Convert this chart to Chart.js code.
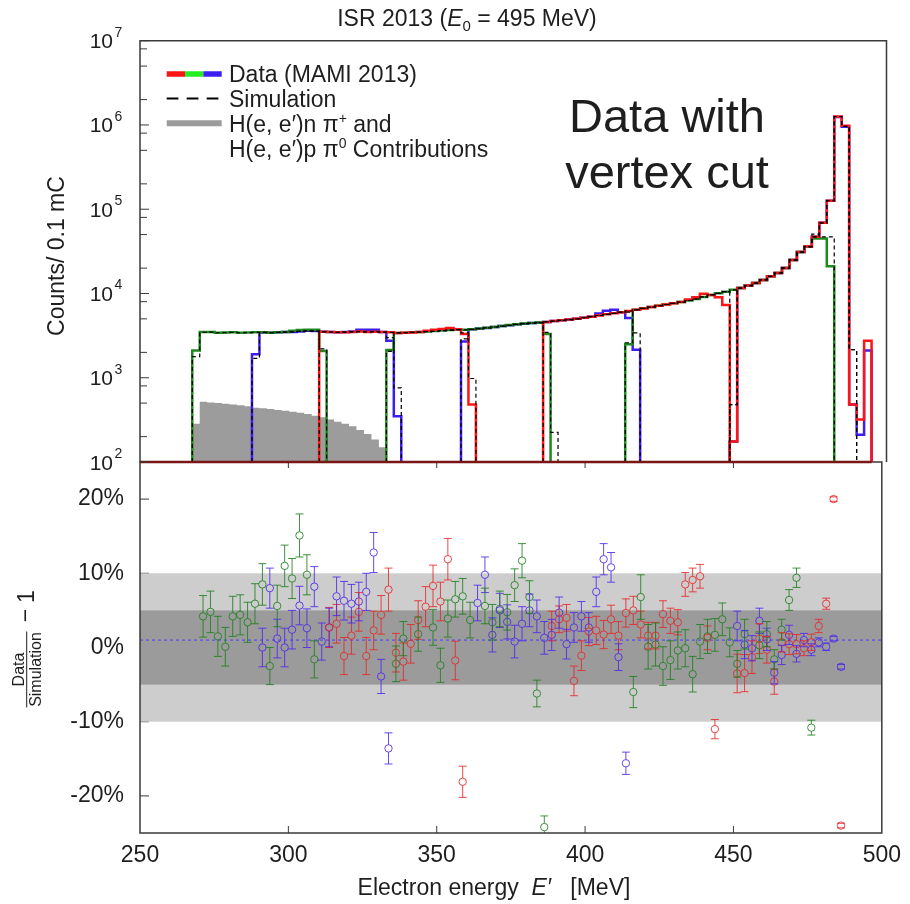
<!DOCTYPE html>
<html>
<head>
<meta charset="utf-8">
<script src="https://cdn.jsdelivr.net/npm/chart.js@4.4.1/dist/chart.umd.min.js"></script>
<style>
  body { margin: 0; background: #fff; }
  #wrap { position: relative; width: 910px; height: 904px; }
  #wrap canvas { position: absolute; left: 0; top: 0; }
</style>
</head>
<body>
<div id="wrap">
  <canvas id="ratio" width="910" height="904"></canvas>
  <canvas id="spectrum" width="910" height="904"></canvas>
</div>
<script>
// ---- spectrum (upper panel): [first bin edge MeV, counts per 2.5 MeV bin] per spectrometer setting
const BIN = 2.5;
const LOG_FLOOR = 100;

const redData = [
  [310, [3520, 3480, 3460, 3470, 3500, 3530, 3500, 3520, 3500, 3460, 3400, 3420, 3450, 3500, 3600, 3700, 3800, 3900, 3750, 3300, 480]],
  [385, [4600, 4700, 4800, 4900, 5000, 5150, 5300, 5480, 5650, 5820, 6000, 6200, 6400, 6650, 6900, 7150, 7400, 7650, 7900, 8500, 9000, 9900, 9600, 9000, 7300]],
  [447.5, [175, 11600, 12400, 13300, 14500, 16000, 17500, 20000, 25000, 31000, 36000, 47000, 69000, 126000, 1260000, 980000, 480, 320, 2750]]
];
const greenData = [
  [267.5, [2100, 3480, 3480, 3430, 3440, 3460, 3430, 3450, 3470, 3460, 3430, 3470, 3500, 3600, 3680, 3720, 3700, 2080]],
  [332.5, [2130, 3400, 3430, 3460, 3500, 3540, 3580, 3630, 3690, 3730, 3720, 3760, 3830, 3910, 4010, 4100, 4220, 4320, 4400, 4460, 4530, 3300]],
  [412.5, [2500, 6420, 6660, 6920, 7160, 7420, 7660, 7920, 8260, 8620, 9100, 9600, 10050, 10500, 11050, 11600, 12400, 13300, 14500, 16000, 17500, 20000, 25000, 31000, 36000, 45000, 45000, 21000]]
];
const blueData = [
  [287.5, [1900, 3450, 3420, 3460, 3480, 3500, 3550, 3600, 3580, 3520, 3480, 3460, 3500, 3540, 3700, 3720, 3720, 3500, 2750, 350]],
  [357.5, [2700, 3760, 3830, 3900, 4000, 4100, 4200, 4300, 4380, 4450, 4520, 4600, 4700, 4800, 4900, 5000, 5150, 5300, 5800, 6250, 6400, 6000, 5100, 2150]],
  [447.5, [175, 11600, 12400, 13300, 14500, 16000, 17500, 20000, 25000, 31000, 36000, 47000, 69000, 126000, 1240000, 950000, 480, 210, 2100]]
];
const redSim = [
  [310, [3500, 3480, 3460, 3480, 3500, 3520, 3500, 3520, 3480, 3450, 3400, 3420, 3450, 3480, 3520, 3560, 3620, 3680, 3720, 3400, 980]],
  [385, [4600, 4700, 4800, 4900, 5000, 5150, 5300, 5480, 5650, 5820, 6000, 6200, 6400, 6650, 6900, 7150, 7400, 7650, 7900, 8250, 8600, 9100, 9600, 10050, 10500]],
  [447.5, [480, 11600, 12400, 13300, 14500, 16000, 17500, 20000, 25000, 31000, 36000, 47000, 69000, 126000, 1260000, 960000, 2150]]
];
const greenSim = [
  [267.5, [1780, 3450, 3480, 3420, 3430, 3450, 3420, 3440, 3460, 3450, 3420, 3460, 3480, 3500, 3550, 3600, 3580, 2200]],
  [332.5, [2050, 3400, 3420, 3450, 3480, 3520, 3560, 3620, 3680, 3720, 3700, 3750, 3820, 3900, 4000, 4100, 4200, 4300, 4380, 4450, 4520, 3450, 225]],
  [412.5, [2600, 6400, 6650, 6900, 7150, 7400, 7650, 7900, 8250, 8600, 9100, 9600, 10050, 10500, 11050, 11600, 12400, 13300, 14500, 16000, 17500, 20000, 25000, 31000, 36000, 50500, 47000, 47000]]
];
const blueSim = [
  [287.5, [1700, 3450, 3420, 3460, 3480, 3500, 3550, 3600, 3580, 3520, 3480, 3460, 3480, 3500, 3520, 3500, 3520, 3480, 3000, 760]],
  [357.5, [2900, 3750, 3820, 3900, 4000, 4100, 4200, 4300, 4380, 4450, 4520, 4600, 4700, 4800, 4900, 5000, 5150, 5300, 5480, 5650, 5820, 6000, 6000, 3400]],
  [447.5, [480, 11600, 12400, 13300, 14500, 16000, 17500, 20000, 25000, 31000, 36000, 47000, 69000, 126000, 1260000, 960000, 2150]]
];
// H(e,e')n pi+ and H(e,e')p pi0 contributions
const pionStart = 267.5;
const pionCounts = [285, 520, 510, 500, 490, 480, 470, 460, 440, 435, 425, 415, 405, 395, 385, 370, 355, 340, 320, 300, 285, 265, 240, 215, 185, 150];
const baselineRange = [250, 495];
const logDecades = [2, 3, 4, 5, 6, 7];

// ---- ratio (lower panel): Data/Simulation - 1 in %
const redE = [313.75, 316.25, 318.75, 321.25, 323.75, 326.25, 328.75, 331.25, 333.75, 336.25, 338.75, 341.25, 343.75, 346.25, 348.75, 351.25, 353.75, 356.25, 358.75,
  388.75, 391.25, 393.75, 396.25, 398.75, 401.25, 403.75, 406.25, 408.75, 411.25, 413.75, 416.25, 418.75, 421.25, 423.75, 426.25, 428.75, 431.25, 433.75, 436.25, 438.75, 441.25, 443.75,
  451.25, 453.75, 456.25, 458.75, 461.25, 463.75, 466.25, 468.75, 471.25, 473.75, 476.25, 478.75, 481.25, 483.75, 486.25];
const redRatio = [2.7, 3.2, -1.15, 1.6, 4.8, -1.15, 2.3, 4.4, 7.8, -0.7, -1.9, 0.5, 3.7, 5.5, 8.3, 6.2, 11.9, -1.75, -18.1,
  2.9, 3.8, 4.0, -4.5, -1.1, 2.15, 2.3, 1.75, 3.8, 1.6, 4.65, 5.0, 3.1, 1.6, 1.6, 4.5, 3.6, 3.4, 8.5, 9.1, 9.6, 1.3, -11.0,
  -3.5, -3.45, -1.3, 1.2, -0.3, -4.6, 0.7, 0.45, 0.45, -0.1, 0.7, 2.9, 5.9, 20.0, -24.0];
const redErr = [2.7, 2.6, 2.5, 2.5, 2.6, 2.5, 2.6, 2.6, 2.9, 2.6, 2.5, 2.6, 2.6, 2.7, 2.8, 2.6, 2.8, 2.6, 2.1,
  2.0, 1.8, 1.8, 2.0, 2.0, 1.9, 1.9, 1.9, 1.9, 1.9, 1.9, 1.9, 1.8, 1.8, 1.8, 1.8, 1.7, 1.7, 1.6, 1.6, 1.6, 1.6, 1.3,
  2.6, 2.5, 2.2, 2.0, 1.8, 1.7, 1.3, 1.4, 1.3, 1.0, 1.1, 0.9, 0.75, 0.3, 0.3];

const greenE = [271.25, 273.75, 276.25, 278.75, 281.25, 283.75, 286.25, 288.75, 291.25, 293.75, 296.25, 298.75, 301.25, 303.75, 306.25, 308.75,
  336.25, 338.75, 343.75, 348.75, 351.25, 353.75, 356.25, 358.75, 361.25, 366.25, 368.75, 371.25, 373.75, 376.25, 378.75, 381.25, 383.75, 386.25,
  416.25, 418.75, 421.25, 423.75, 426.25, 428.75, 431.25, 433.75, 436.25, 438.75, 441.25, 443.75, 446.25, 448.75, 451.25, 453.75, 458.75, 461.25, 463.75, 466.25, 468.75, 471.25, 476.25];
const greenRatio = [4.2, 4.8, 1.5, 0.1, 4.2, 4.4, 3.4, 5.9, 8.5, -2.5, 5.6, 11.0, 9.3, 15.1, 9.8, -1.6,
  -2.2, 1.2, 1.8, 2.7, -2.4, 3.9, 6.5, 6.9, 3.7, 5.6, 3.4, 5.2, 4.75, 8.4, 11.7, 6.8, -6.2, -24.2,
  -6.0, 6.8, 0.1, 0.4, -2.5, -1.7, -0.4, -0.1, -3.6, 0.8, 1.5, 1.7, 3.8, 0.7, -2.2, 1.8, 0.3, 1.8, -1.6, 2.4, 6.4, 9.4, -10.8];
const greenErr = [2.8, 2.8, 2.7, 2.6, 2.7, 2.7, 2.7, 2.7, 2.8, 2.5, 2.8, 2.8, 2.7, 2.9, 2.7, 2.5,
  2.4, 2.3, 2.3, 2.4, 2.3, 2.5, 2.4, 2.4, 2.4, 2.4, 2.4, 2.4, 2.4, 2.2, 2.3, 2.2, 1.8, 1.5,
  2.1, 3.0, 3.0, 2.9, 2.6, 2.6, 2.5, 2.5, 2.4, 2.3, 2.3, 2.2, 2.2, 1.95, 1.8, 2.0, 1.8, 1.7, 1.3, 1.4, 1.4, 1.3, 1.0];

const blueE = [291.25, 293.75, 296.25, 298.75, 301.25, 303.75, 306.25, 308.75, 311.25, 313.75, 316.25, 318.75, 321.25, 323.75, 326.25, 328.75, 331.25, 333.75,
  363.75, 366.25, 368.75, 371.25, 373.75, 376.25, 378.75, 381.25, 383.75, 386.25, 388.75, 391.25, 393.75, 396.25, 398.75, 401.25, 403.75, 406.25, 408.75, 411.25, 413.75,
  451.25, 453.75, 456.25, 458.75, 461.25, 463.75, 466.25, 468.75, 471.25, 473.75, 476.25, 478.75, 481.25, 483.75, 486.25];
const blueRatio = [0.0, 8.0, 1.2, 0.0, 2.4, 5.65, 2.6, 8.2, 0.8, 2.7, 6.9, 6.3, 5.9, 6.2, 7.5, 12.8, -3.9, -13.6,
  6.0, 9.8, 1.7, 5.0, 3.45, 0.8, 3.2, 5.0, 4.2, 1.3, 1.7, 4.7, 0.45, 2.7, 4.2, 2.7, 7.5, 11.9, 10.8, -1.3, -15.6,
  2.9, 0.4, -0.1, 3.6, 1.1, -3.4, -1.0, 1.7, -0.85, 1.0, -0.3, 0.7, 0.1, 1.2, -2.6];
const blueErr = [2.6, 2.7, 2.6, 2.6, 2.6, 2.6, 2.6, 2.7, 2.5, 2.6, 2.6, 2.6, 2.6, 2.6, 2.5, 2.7, 2.3, 2.1,
  2.4, 2.4, 2.3, 2.3, 2.3, 2.2, 2.3, 2.2, 2.2, 2.2, 2.1, 2.1, 2.0, 2.0, 2.0, 2.0, 2.0, 2.1, 2.0, 1.8, 1.5,
  2.0, 1.9, 1.7, 1.7, 1.5, 1.5, 1.3, 1.3, 1.1, 0.9, 0.8, 0.6, 0.5, 0.3, 0.3];

const energyTicks = [250, 300, 350, 400, 450, 500];
const ratioTicks = [-20, -10, 0, 10, 20];
const bandOuter = [-10, 10];
const bandInner = [-5, 5];
const refLevel = 1;

// ---- styling
const FONT = '"Liberation Sans", Arial, Helvetica, sans-serif';
const TEXT = '#1e1e1e';
const AXIS = '#3a3a3a';
const LINE = { red: '#ff1414', green: '#1e8a1e', blue: '#3c1ef0' };
const MARK = { red: 'rgba(232,40,40,0.85)', green: 'rgba(30,128,30,0.85)', blue: 'rgba(80,40,235,0.85)' };
const PLOT = { left: 140, right: 886.5, top: 40.7, mid: 462, bottom: 833 };
const MARK_R = 3.7;

function histSet(start, counts, style) {
  const pts = [{ x: start, y: LOG_FLOOR }];
  counts.forEach((c, k) => pts.push({ x: start + k * BIN, y: c }));
  const end = start + counts.length * BIN;
  pts.push({ x: end, y: counts[counts.length - 1] }, { x: end, y: LOG_FLOOR });
  return Object.assign({ type: 'line', data: pts, stepped: 'before', pointRadius: 0, fill: false, clip: false, borderJoinStyle: 'miter' }, style);
}

function runsWidth(ctx, runs, size) {
  let w = 0;
  runs.forEach(r => {
    ctx.font = (r.italic ? 'italic ' : '') + (r.size || size) + 'px ' + FONT;
    w += ctx.measureText(r.t).width;
  });
  return w;
}
function drawRuns(ctx, runs, x, y, size) {
  let cx = x;
  ctx.textAlign = 'left';
  ctx.textBaseline = 'alphabetic';
  runs.forEach(r => {
    ctx.font = (r.italic ? 'italic ' : '') + (r.size || size) + 'px ' + FONT;
    ctx.fillText(r.t, cx, y + (r.shift || 0));
    cx += ctx.measureText(r.t).width;
  });
  return cx;
}

// ---------------- upper panel ----------------
const simStyle = { borderColor: '#000', borderWidth: 1.2, borderDash: [4, 3] };
const topSets = [];
topSets.push({ type: 'line', data: baselineRange.map(e => ({ x: e, y: LOG_FLOOR })), borderColor: '#7a1616', borderWidth: 2.5, pointRadius: 0, clip: false });
[redSim, greenSim, blueSim].forEach(list => list.forEach(([s, c]) => topSets.push(histSet(s, c, simStyle))));
redData.forEach(([s, c]) => topSets.push(histSet(s, c, { borderColor: LINE.red, borderWidth: 2.5 })));
greenData.forEach(([s, c]) => topSets.push(histSet(s, c, { borderColor: LINE.green, borderWidth: 2.5 })));
blueData.forEach(([s, c]) => topSets.push(histSet(s, c, { borderColor: LINE.blue, borderWidth: 2.5 })));
topSets.push(histSet(pionStart, pionCounts, { borderWidth: 0, borderColor: 'rgba(0,0,0,0)', backgroundColor: '#9c9c9c', fill: 'start' }));

const spectrumDecor = {
  id: 'spectrumDecor',
  afterDraw(chart) {
    const { ctx, chartArea: a, scales: { y } } = chart;
    ctx.save();
    // frame
    ctx.strokeStyle = AXIS;
    ctx.lineWidth = 1.5;
    ctx.beginPath();
    ctx.moveTo(a.left, a.bottom); ctx.lineTo(a.left, a.top); ctx.lineTo(a.right, a.top); ctx.lineTo(a.right, a.bottom);
    ctx.stroke();
    // inward ticks on the log axis
    ctx.lineWidth = 1;
    logDecades.forEach(k => {
      const yp = y.getPixelForValue(Math.pow(10, k));
      ctx.beginPath(); ctx.moveTo(a.left, yp); ctx.lineTo(a.left + 9, yp); ctx.stroke();
      if (k < 7) {
        [2, 5, 8].forEach(m => {
          const ym = y.getPixelForValue(m * Math.pow(10, k));
          ctx.beginPath(); ctx.moveTo(a.left, ym); ctx.lineTo(a.left + 7, ym); ctx.stroke();
        });
      }
      // label 10^k
      ctx.fillStyle = TEXT;
      ctx.font = '21px ' + FONT;
      ctx.textAlign = 'right';
      ctx.textBaseline = 'alphabetic';
      ctx.fillText('10', 113, yp + 7.5);
      ctx.font = '14px ' + FONT;
      ctx.textAlign = 'left';
      ctx.fillText(String(k), 114.5, yp - 4);
    });
    ctx.fillStyle = TEXT;
    // title
    const title = [{ t: 'ISR 2013 (' }, { t: 'E', italic: true }, { t: '0', size: 15, shift: 5 }, { t: ' = 495 MeV)' }];
    drawRuns(ctx, title, 467 - runsWidth(ctx, title, 23) / 2, 26, 23);
    // y axis title
    ctx.save();
    ctx.translate(58, 256);
    ctx.rotate(-Math.PI / 2);
    ctx.font = '23px ' + FONT;
    ctx.textAlign = 'center';
    ctx.textBaseline = 'middle';
    ctx.fillText('Counts/ 0.1 mC', 0, 0);
    ctx.restore();
    // legend
    const lx0 = 166.7, lx1 = 221.7, seg = (lx1 - lx0) / 3;
    ctx.lineWidth = 5.5;
    [LINE.red, '#22ee22', LINE.blue].forEach((c, i) => {
      ctx.strokeStyle = c;
      ctx.beginPath(); ctx.moveTo(lx0 + i * seg, 74); ctx.lineTo(lx0 + (i + 1) * seg, 74); ctx.stroke();
    });
    ctx.strokeStyle = '#000';
    ctx.lineWidth = 2;
    ctx.setLineDash([11.7, 8.3]);
    ctx.beginPath(); ctx.moveTo(lx0, 98.5); ctx.lineTo(lx1, 98.5); ctx.stroke();
    ctx.setLineDash([]);
    ctx.strokeStyle = '#9c9c9c';
    ctx.lineWidth = 6;
    ctx.beginPath(); ctx.moveTo(lx0, 123.3); ctx.lineTo(lx1, 123.3); ctx.stroke();
    ctx.fillStyle = TEXT;
    drawRuns(ctx, [{ t: 'Data (MAMI 2013)' }], 229, 82, 23);
    drawRuns(ctx, [{ t: 'Simulation' }], 229, 106.5, 23);
    drawRuns(ctx, [{ t: 'H(e, e\u2032)n ' }, { t: '\u03c0' }, { t: '+', size: 14, shift: -9 }, { t: ' and' }], 229, 131.5, 23);
    drawRuns(ctx, [{ t: 'H(e, e\u2032)p ' }, { t: '\u03c0' }, { t: '0', size: 14, shift: -9 }, { t: ' Contributions' }], 229, 156.5, 23);
    // annotation
    ctx.font = '47px ' + FONT;
    ctx.textAlign = 'center';
    ctx.textBaseline = 'alphabetic';
    ctx.fillText('Data with', 667, 132);
    ctx.fillText('vertex cut', 667, 188);
    ctx.restore();
  }
};

new Chart(document.getElementById('spectrum'), {
  type: 'line',
  data: { datasets: topSets },
  options: {
    responsive: false, animation: false, devicePixelRatio: 1, events: [],
    layout: { padding: { left: PLOT.left, right: 910 - PLOT.right, top: PLOT.top, bottom: 904 - PLOT.mid } },
    plugins: { legend: { display: false }, tooltip: { enabled: false } },
    scales: {
      x: { type: 'linear', min: 250, max: 500, display: false },
      y: { type: 'logarithmic', min: 1e2, max: 1e7, display: false }
    }
  },
  plugins: [spectrumDecor]
});

// ---------------- lower panel ----------------
function ratioSet(es, vals, errs, color) {
  return {
    type: 'scatter', data: es.map((e, k) => ({ x: e, y: vals[k] })), errors: errs,
    pointRadius: MARK_R, pointBorderWidth: 1, pointBorderColor: color, pointBackgroundColor: 'rgba(0,0,0,0)',
    borderColor: color, showLine: false, clip: false
  };
}

const ratioDecor = {
  id: 'ratioDecor',
  beforeDatasetsDraw(chart) {
    const { ctx, chartArea: a, scales: { y } } = chart;
    ctx.save();
    ctx.strokeStyle = AXIS;
    ctx.lineWidth = 1;
    ratioTicks.forEach(v => {
      const yp = y.getPixelForValue(v);
      ctx.beginPath(); ctx.moveTo(a.left, yp); ctx.lineTo(a.left + 9, yp); ctx.stroke();
    });
    const yo1 = y.getPixelForValue(bandOuter[1]), yo0 = y.getPixelForValue(bandOuter[0]);
    const yi1 = y.getPixelForValue(bandInner[1]), yi0 = y.getPixelForValue(bandInner[0]);
    ctx.fillStyle = '#cdcdcd';
    ctx.fillRect(a.left, yo1, a.right - a.left, yo0 - yo1);
    ctx.fillStyle = '#9b9b9b';
    ctx.fillRect(a.left, yi1, a.right - a.left, yi0 - yi1);
    ctx.restore();
  },
  afterDatasetsDraw(chart) {
    const { ctx, chartArea: a, scales: { y } } = chart;
    ctx.save();
    ctx.beginPath(); ctx.rect(a.left, a.top, a.right - a.left, a.bottom - a.top); ctx.clip();
    chart.data.datasets.forEach((ds, i) => {
      if (!ds.errors) return;
      const meta = chart.getDatasetMeta(i);
      ctx.strokeStyle = ds.pointBorderColor;
      ctx.lineWidth = 1;
      meta.data.forEach((pt, k) => {
        const v = ds.data[k].y, e = ds.errors[k], r = MARK_R;
        const yt = y.getPixelForValue(v + e), yb = y.getPixelForValue(v - e);
        ctx.beginPath();
        if (pt.y - r > yt) { ctx.moveTo(pt.x, yt); ctx.lineTo(pt.x, pt.y - r); }
        if (yb > pt.y + r) { ctx.moveTo(pt.x, pt.y + r); ctx.lineTo(pt.x, yb); }
        ctx.moveTo(pt.x - 4, yt); ctx.lineTo(pt.x + 4, yt);
        ctx.moveTo(pt.x - 4, yb); ctx.lineTo(pt.x + 4, yb);
        ctx.stroke();
      });
    });
    ctx.restore();
  },
  afterDraw(chart) {
    const { ctx, chartArea: a, scales: { x } } = chart;
    ctx.save();
    ctx.strokeStyle = AXIS;
    ctx.lineWidth = 1.5;
    ctx.strokeRect(a.left, a.top, a.right - a.left, a.bottom - a.top);
    ctx.lineWidth = 1;
    energyTicks.slice(1, -1).forEach(e => {
      const xp = x.getPixelForValue(e);
      ctx.beginPath();
      ctx.moveTo(xp, a.bottom); ctx.lineTo(xp, a.bottom - 7);
      ctx.moveTo(xp, a.top); ctx.lineTo(xp, a.top + 6);
      ctx.stroke();
    });
    ctx.fillStyle = TEXT;
    // x axis title
    const xt = [{ t: 'Electron energy  ' }, { t: 'E\u2032', italic: true }, { t: '   [MeV]' }];
    drawRuns(ctx, xt, 494 - runsWidth(ctx, xt, 23) / 2, 895, 23);
    // y axis title: fraction Data/Simulation - 1, rotated
    ctx.translate(26.7, 669.5);
    ctx.rotate(-Math.PI / 2);
    ctx.textAlign = 'center';
    ctx.font = '16px ' + FONT;
    ctx.textBaseline = 'alphabetic';
    ctx.fillText('Data', 0, -3);
    ctx.textBaseline = 'top';
    ctx.fillText('Simulation', 0, 2);
    ctx.strokeStyle = TEXT;
    ctx.lineWidth = 1;
    ctx.beginPath(); ctx.moveTo(-38, 0); ctx.lineTo(38, 0); ctx.stroke();
    ctx.font = '23px ' + FONT;
    ctx.textBaseline = 'middle';
    ctx.fillText('\u2212', 54, 0);
    ctx.fillText('1', 73, 1);
    ctx.restore();
  }
};

new Chart(document.getElementById('ratio'), {
  type: 'scatter',
  data: {
    datasets: [
      ratioSet(redE, redRatio, redErr, MARK.red),
      ratioSet(blueE, blueRatio, blueErr, MARK.blue),
      ratioSet(greenE, greenRatio, greenErr, MARK.green),
      { type: 'line', data: [{ x: 250, y: refLevel }, { x: 500, y: refLevel }], borderColor: '#4a3cff', borderWidth: 1, borderDash: [3, 3], pointRadius: 0 }
    ]
  },
  options: {
    responsive: false, animation: false, devicePixelRatio: 1, events: [],
    layout: { padding: { left: 0, right: 910 - PLOT.right, top: PLOT.mid, bottom: 0 } },
    plugins: { legend: { display: false }, tooltip: { enabled: false } },
    scales: {
      x: {
        type: 'linear', min: 250, max: 500,
        afterBuildTicks: s => { s.ticks = energyTicks.map(v => ({ value: v })); },
        afterFit: s => { s.height = 904 - PLOT.bottom; },
        ticks: { font: { family: FONT, size: 23 }, color: TEXT, padding: 9, maxRotation: 0, autoSkip: false },
        grid: { display: false, drawTicks: false }, border: { display: false }
      },
      y: {
        type: 'linear', min: -25, max: 25,
        afterBuildTicks: s => { s.ticks = ratioTicks.map(v => ({ value: v })); },
        afterFit: s => { s.width = PLOT.left; },
        ticks: { font: { family: FONT, size: 23 }, color: TEXT, padding: 16, callback: v => v + '%' },
        grid: { display: false, drawTicks: false }, border: { display: false }
      }
    }
  },
  plugins: [ratioDecor]
});
</script>
</body>
</html>
